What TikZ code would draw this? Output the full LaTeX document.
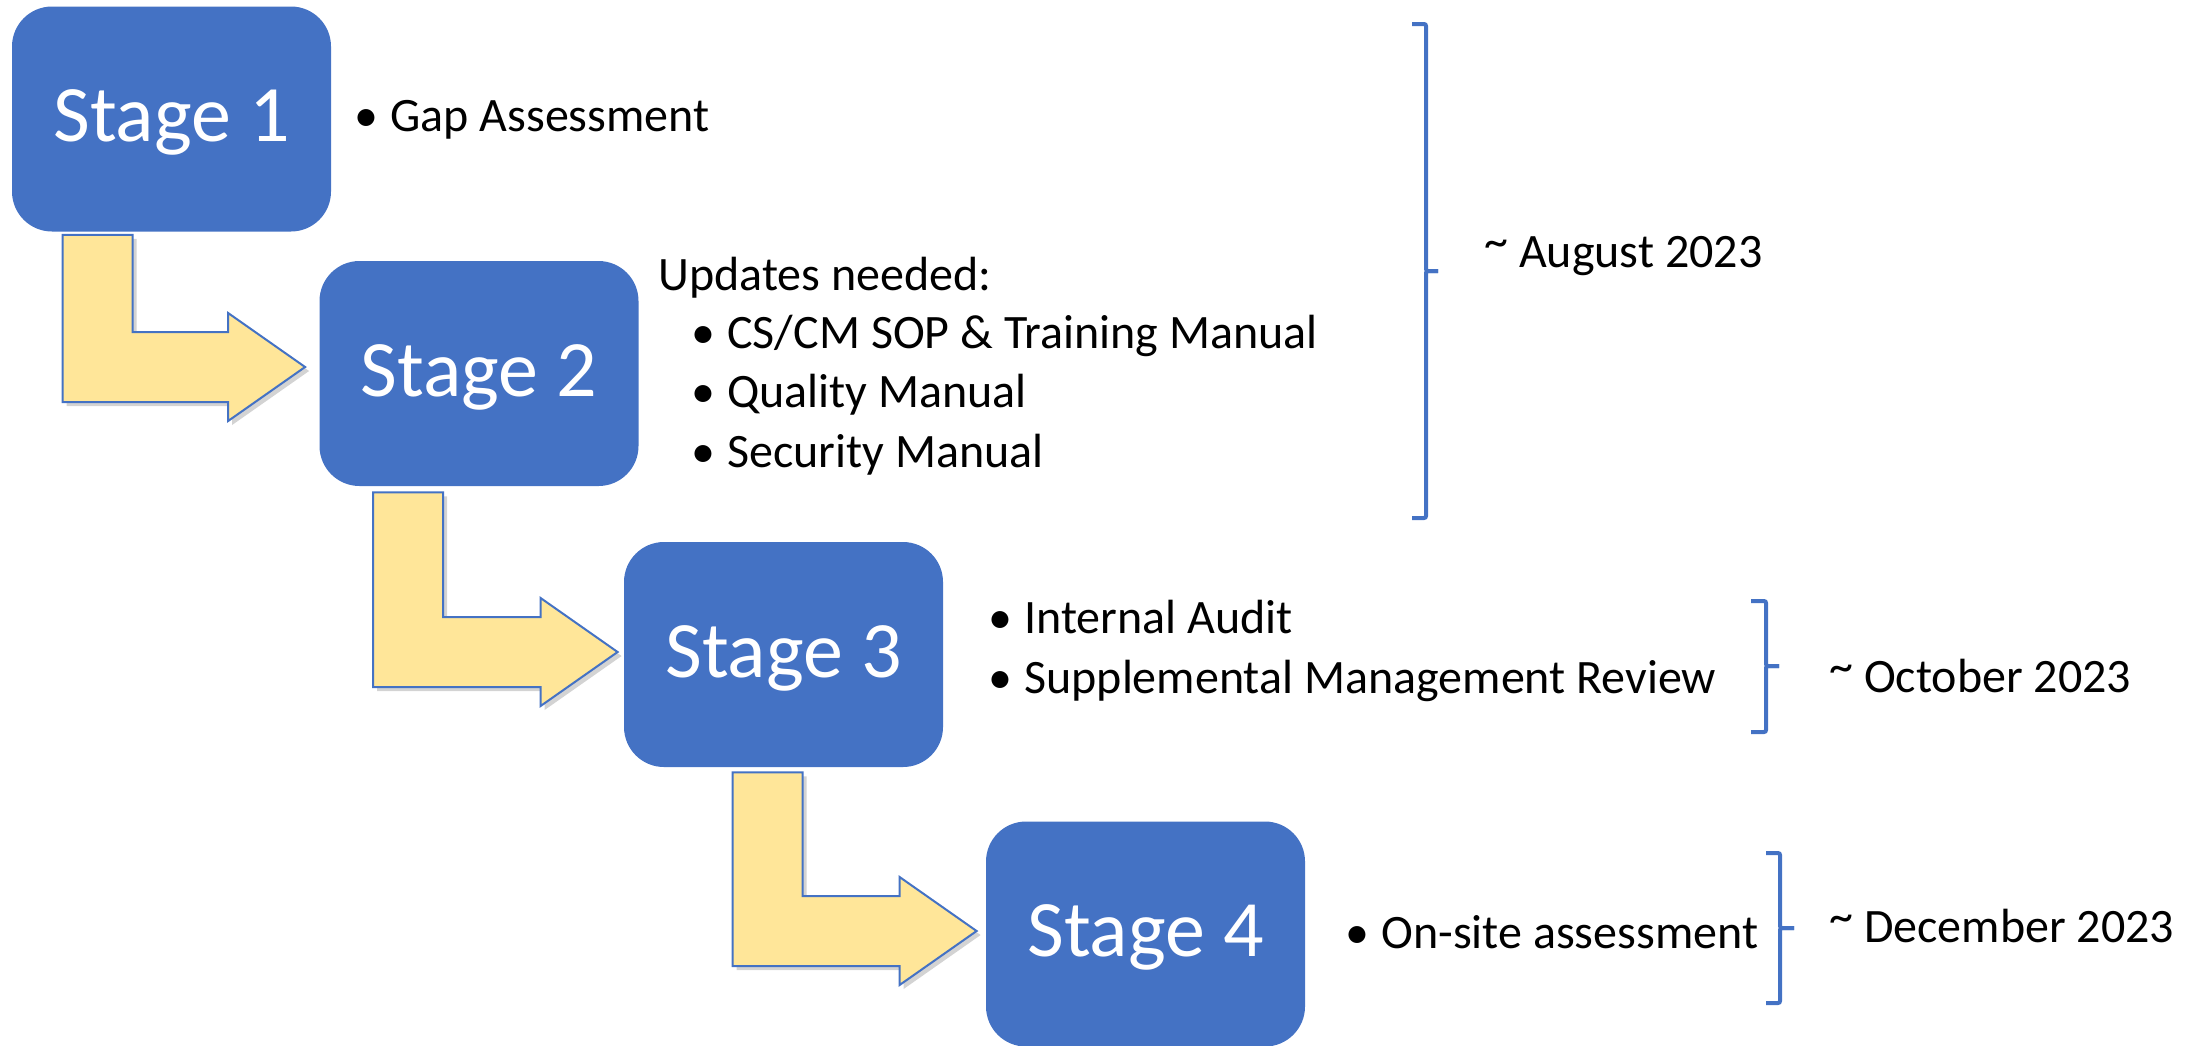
\documentclass[tikz,border=0pt]{standalone}
\usepackage{fontspec}
\setmainfont{Carlito}
\usepackage{tikz}
\usetikzlibrary{backgrounds, calc, shadows}

\definecolor{stageblue}{HTML}{4472C4}
\definecolor{arrowgold}{HTML}{FFE699}

\newcommand{\bul}{\makebox[18pt][l]{\textbullet}}
\newcommand{\approxmark}{\raisebox{0.2em}{\textasciitilde}}

\begin{document}
\begin{tikzpicture}[
        x=0.5pt, y=-0.5pt,
        stagebox/.style={
            rectangle,
            rounded corners=20pt,
            fill=stageblue,
            text=white,
            minimum width=159.5pt,
            minimum height=112.5pt,
            text depth=3pt,
            font=\fontsize{40}{48}\selectfont
        },
        item/.style={
            anchor=base west,
            inner sep=0pt,
            font=\fontsize{24}{29}\selectfont
        },
        bentarrow/.style={
            draw=stageblue,
            line width=1pt,
            fill=arrowgold,
            drop shadow={opacity=0.35, shadow xshift=2pt, shadow yshift=-2pt}
        },
        bracket/.style={
            draw=stageblue,
            line width=2pt,
            rounded corners=1pt
        }
    ]

    \useasboundingbox (0,0) rectangle (2198,1045);

    % Stages
    \node (s1) [stagebox] at (171.5,119) {Stage 1};
    \node (s2) [stagebox] at (479,373.5) {Stage 2};
    \node (s3) [stagebox] at (783.5,654.5) {Stage 3};
    \node (s4) [stagebox] at (1145.5,934) {Stage 4};

    % Bent arrows between stages (behind the boxes)
    \begin{scope}[on background layer]
        \draw [bentarrow] let \p1 = ($(s1.south west)+(51,3)$), \p2 = ($(s2.west)+(-14,-6.5)$) in
            (\p1) -- (\x1+35pt,\y1) -- (\x1+35pt,\y2+17.5pt) -- (\x2-38.5pt,\y2+17.5pt)
            -- (\x2-38.5pt,\y2+27pt) -- (\p2) -- (\x2-38.5pt,\y2-27pt)
            -- (\x2-38.5pt,\y2-17.5pt) -- (\x1,\y2-17.5pt) -- cycle;
        \draw [bentarrow] let \p1 = ($(s2.south west)+(54,6)$), \p2 = ($(s3.west)+(-6,-2.5)$) in
            (\p1) -- (\x1+35pt,\y1) -- (\x1+35pt,\y2+17.5pt) -- (\x2-38.5pt,\y2+17.5pt)
            -- (\x2-38.5pt,\y2+27pt) -- (\p2) -- (\x2-38.5pt,\y2-27pt)
            -- (\x2-38.5pt,\y2-17.5pt) -- (\x1,\y2-17.5pt) -- cycle;
        \draw [bentarrow] let \p1 = ($(s3.south west)+(109,5)$), \p2 = ($(s4.west)+(-9,-3)$) in
            (\p1) -- (\x1+35pt,\y1) -- (\x1+35pt,\y2+17.5pt) -- (\x2-38.5pt,\y2+17.5pt)
            -- (\x2-38.5pt,\y2+27pt) -- (\p2) -- (\x2-38.5pt,\y2-27pt)
            -- (\x2-38.5pt,\y2-17.5pt) -- (\x1,\y2-17.5pt) -- cycle;
    \end{scope}

    % Tasks per stage
    \node (gap) [item] at (354,131) {\bul Gap Assessment};
    \node (upd) [item] at (658,290) {Updates needed:};
    \node (upd1) [item] at (691,348) {\bul CS/CM SOP \& Training Manual};
    \node (upd2) [item] at (691,407) {\bul Quality Manual};
    \node (upd3) [item] at (691,467) {\bul Security Manual};
    \node (audit) [item] at (988,633) {\bul Internal Audit};
    \node (review) [item] at (988,693) {\bul Supplemental Management Review};
    \node (onsite) [item] at (1345,948) {\bul On-site assessment};

    % Brackets and dates
    \draw [bracket] (1412,24) -| (1426,271) -- (1438,271);
    \draw [bracket] (1412,518) -| (1426,271) -- (1438,271);
    \draw [bracket] (1751,601) -| (1766,666) -- (1779,666);
    \draw [bracket] (1751,732) -| (1766,666) -- (1779,666);
    \draw [bracket] (1766,853) -| (1780,928) -- (1794,928);
    \draw [bracket] (1766,1003) -| (1780,928) -- (1794,928);

    \node (aug) [item] at (1484,267) {\approxmark{} August 2023};
    \node (oct) [item] at (1829,692) {\approxmark{} October 2023};
    \node (dec) [item] at (1829,942) {\approxmark{} December 2023};

\end{tikzpicture}
\end{document}
